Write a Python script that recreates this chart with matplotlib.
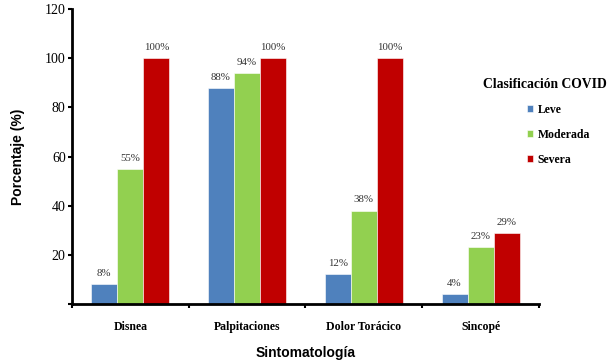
import matplotlib
matplotlib.use("Agg")
import matplotlib.pyplot as plt
import numpy as np

categories = ["Disnea", "Palpitaciones", "Dolor Torácico", "Sincopé"]
series_names = ["Leve", "Moderada", "Severa"]
leve = [8, 88, 12, 4]
moderada = [55, 94, 38, 23]
severa = [100, 100, 100, 29]
colors = ["#4F81BD", "#92D050", "#C00000"]
yticks = [0, 20, 40, 60, 80, 100, 120]

fig = plt.figure(figsize=(6.11, 3.64), dpi=100)
ax = fig.add_axes([0.1178, 0.165, 0.7643, 0.81])

x = np.arange(len(categories))
w = 0.223
serif = "Liberation Serif"
for k, (vals, name, c) in enumerate(zip([leve, moderada, severa], series_names, colors)):
    bars = ax.bar(x + (k - 1) * w, vals, width=w, color=c, label=name,
                  edgecolor="white", linewidth=0.4)
    for b, v in zip(bars, vals):
        ax.text(b.get_x() + b.get_width() / 2, v + 2.5, f"{v}%", ha="center",
                va="bottom", fontsize=7.8, family=serif, color="#333333")

ax.set_xlim(-0.5, len(categories) - 0.5)
ax.set_ylim(0, 120)
ax.set_yticks(yticks)
ax.set_yticklabels(["" if t == 0 else str(t) for t in yticks], family=serif, fontsize=10)
ax.set_xticks(x)
ax.set_xticklabels(categories, family=serif, fontsize=8.5, fontweight="bold")
ax.set_xticks(np.arange(len(categories) + 1) - 0.5, minor=True)
ax.tick_params(axis="x", which="major", length=0, pad=12)
ax.tick_params(axis="x", which="minor", length=3, width=1.5, direction="out")
ax.tick_params(axis="y", length=3, width=1.5, direction="out", pad=1.5)
for s in ["top", "right"]:
    ax.spines[s].set_visible(False)
for s in ["left", "bottom"]:
    ax.spines[s].set_linewidth(2)

ax.set_ylabel("Porcentaje (%)", family="Liberation Sans", fontweight="bold", fontsize=10, labelpad=14)
ax.set_xlabel("Sintomatología", family="Liberation Sans", fontweight="bold", fontsize=10, labelpad=10)

handles, labels = ax.get_legend_handles_labels()
fig.text(483 / 611, 1 - 84 / 364, "Clasificación COVID", family=serif, fontweight="bold",
         fontsize=9.8, ha="left", va="center")
leg = fig.legend(handles, labels, loc="upper left", bbox_to_anchor=(527 / 611, 1 - 104 / 364),
                 frameon=False, handlelength=0.5, handleheight=0.5, handletextpad=0.4,
                 labelspacing=1.1, borderpad=0, borderaxespad=0,
                 prop={"family": serif, "weight": "bold", "size": 8.5})

fig.savefig("out.png", dpi=100)
